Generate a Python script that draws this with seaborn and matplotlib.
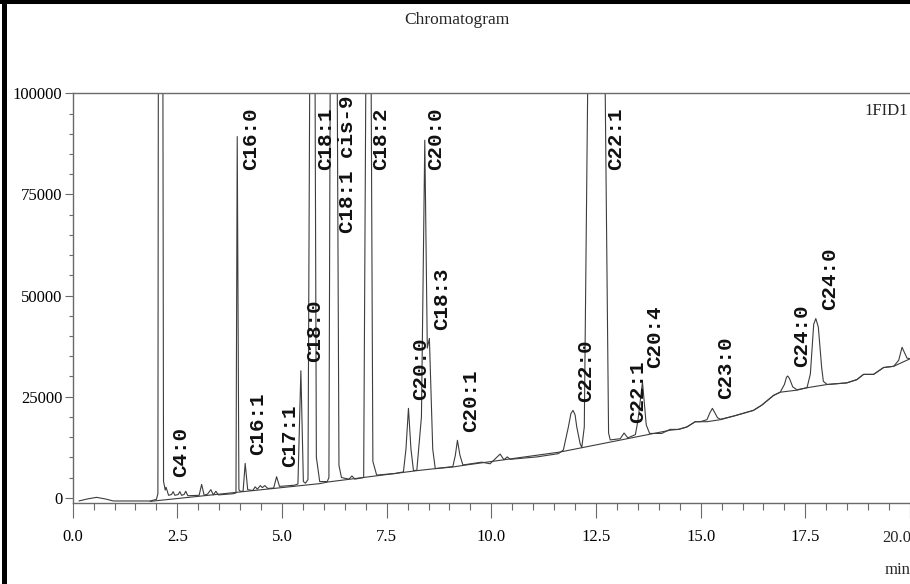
import matplotlib
matplotlib.use("Agg")
import matplotlib.pyplot as plt
import seaborn as sns
import pandas as pd
from matplotlib.lines import Line2D
from matplotlib.ticker import MultipleLocator, FixedLocator, FuncFormatter

# ---------------- data ----------------
# retention time (min) of trace points
time_min = [
    0.15, 0.35, 0.57, 0.78, 0.97, 1.44, 1.85, 2.00, 2.035, 2.045, 2.10, 2.155, 2.17, 2.21,
    2.23, 2.29, 2.36, 2.40, 2.44, 2.52, 2.56, 2.60, 2.66, 2.70, 2.75, 3.02, 3.08, 3.14,
    3.22, 3.30, 3.36, 3.42, 3.48, 3.84, 3.90, 3.93, 3.97, 4.00, 4.07, 4.12, 4.18, 4.30,
    4.36, 4.41, 4.48, 4.53, 4.59, 4.66, 4.80, 4.87, 4.94, 5.30, 5.38, 5.45, 5.51, 5.56,
    5.62, 5.66, 5.725, 5.79, 5.82, 5.90, 6.08, 6.12, 6.15, 6.235, 6.32, 6.36, 6.42, 6.60,
    6.67, 6.74, 6.95, 7.00, 7.065, 7.13, 7.17, 7.26, 7.70, 7.90, 7.96, 8.02, 8.08, 8.14,
    8.22, 8.33, 8.41, 8.47, 8.52, 8.60, 8.66, 9.08, 9.14, 9.19, 9.25, 9.32, 9.77, 9.97,
    10.21, 10.30, 10.38, 10.45, 11.09, 11.60, 11.72, 11.84, 11.90, 11.95, 12.00, 12.04,
    12.12, 12.16, 12.22, 12.30, 12.50, 12.72, 12.80, 12.84, 12.92, 13.08, 13.17, 13.26,
    13.44, 13.50, 13.61, 13.70, 13.78, 14.07, 14.27, 14.47, 14.67, 14.87, 14.99, 15.15,
    15.22, 15.28, 15.34, 15.40, 15.47, 15.79, 16.26, 16.46, 16.74, 16.90, 17.00, 17.05,
    17.08, 17.12, 17.20, 17.30, 17.54, 17.62, 17.70, 17.75, 17.81, 17.89, 17.93, 18.02,
    18.49, 18.73, 18.89, 19.13, 19.37, 19.61, 19.73, 19.81, 19.93, 20.01, 20.20,
]
# detector signal of trace points (counts); off-scale peak tops are estimates
signal = [
    -800, -300, 100, -300, -800, -800, -800, -400, 1000, 100000, 350000, 100000, 4000, 1900,
    2600, 600, 800, 1500, 600, 800, 1500, 600, 800, 1600, 500, 600, 3300, 600,
    900, 2000, 700, 1600, 700, 1000, 1200, 89300, 2000, 1600, 1600, 8500, 2000, 1800,
    2700, 2100, 3000, 2500, 3000, 2300, 2400, 5200, 2800, 3100, 3400, 31400, 4000, 3600,
    4500, 100000, 400000, 100000, 10000, 4000, 4000, 5000, 100000, 400000, 100000, 8000, 5000, 4600,
    5400, 4600, 5000, 100000, 400000, 100000, 9000, 5600, 6000, 6400, 12000, 22100, 12000, 6700,
    6800, 20000, 88400, 37000, 39400, 12000, 7200, 7700, 10500, 14200, 10500, 8100, 8800, 8400,
    10800, 9400, 10100, 9500, 10100, 10900, 11800, 17500, 20800, 21600, 20500, 17500,
    13400, 12400, 17500, 100000, 400000, 100000, 16000, 14300, 14400, 14600, 16000, 14800,
    15600, 19000, 28600, 18000, 15900, 15900, 16900, 16900, 17500, 18800, 18800, 19300,
    21000, 22100, 21000, 19800, 19400, 20200, 21600, 22900, 25300, 26100, 28000, 29800,
    30100, 29500, 27400, 26700, 27200, 30600, 42900, 44300, 42200, 32200, 28800, 28000,
    28400, 29200, 30500, 30500, 32200, 32500, 34000, 37200, 34500, 34400, 35000,
]
# integration baseline drawn under the peaks
baseline_time = [1.85, 5.91, 6.10, 7.70, 8.22, 8.66, 9.08, 9.33, 11.64, 14.27,
                 14.47, 14.67, 14.87, 14.99, 15.15, 15.47, 15.79, 16.26, 16.46, 16.74,
                 16.90, 17.30, 17.54, 18.02, 18.49, 18.73, 18.89, 19.13, 19.37, 19.61,
                 20.01, 20.20]
baseline_signal = [-900, 3500, 3900, 6000, 6700, 7200, 7600, 8000, 11300, 16700,
                   16900, 17500, 18800, 18800, 18800, 19300, 20200, 21600, 22900, 25300,
                   26100, 26600, 27200, 28000, 28400, 29200, 30500, 30500, 32200, 32500,
                   34400, 35000]

# peak annotations: name, retention time of label centre, signal level of label start
peak_labels = ["C4:0", "C16:0", "C16:1", "C17:1", "C18:0", "C18:1", "C18:1 cis-9",
               "C18:2", "C20:0", "C20:0", "C18:3", "C20:1", "C22:0", "C22:1",
               "C22:1", "C20:4", "C23:0", "C24:0", "C24:0"]
label_time = [2.58, 4.26, 4.42, 5.17, 5.79, 6.05, 6.57, 7.36, 8.30, 8.68, 8.82, 9.51,
              12.26, 12.98, 13.50, 13.89, 15.59, 17.40, 18.08]
label_level = [5150, 81000, 10500, 7600, 33600, 81000, 65400, 81000, 24100, 81000,
               41400, 16300, 23700, 81000, 18400, 32000, 24500, 32400, 46400]

x_ticks = [0.0, 2.5, 5.0, 7.5, 10.0, 12.5, 15.0, 17.5, 20.0]
y_ticks = [0, 25000, 50000, 75000, 100000]

# ---------------- figure ----------------
sns.set_style("ticks")
plt.rcParams["font.family"] = ["Liberation Serif", "DejaVu Serif"]

W, H = 910, 584
fig = plt.figure(figsize=(W / 100, H / 100), dpi=100)
ax_left, ax_right, ax_top, ax_bottom = 72.7, 910.0, 93.3, 503.0
ax = fig.add_axes([ax_left / W, 1 - ax_bottom / H, (ax_right - ax_left) / W,
                   (ax_bottom - ax_top) / H])

trace_color = "#3d3d3d"
df = pd.DataFrame({"time": time_min, "signal": signal})
sns.lineplot(data=df, x="time", y="signal", ax=ax, color=trace_color, linewidth=0.8,
             estimator=None, sort=False, legend=False)
sns.lineplot(x=baseline_time, y=baseline_signal, ax=ax, color=trace_color, linewidth=0.8,
             estimator=None, sort=False, legend=False)

ax.set_xlim(0, 20.0)
ax.set_ylim(-1300, 100000)
ax.set_xlabel("")
ax.set_ylabel("")

ax.xaxis.set_major_locator(FixedLocator(x_ticks))
ax.xaxis.set_minor_locator(MultipleLocator(0.5))
ax.yaxis.set_major_locator(FixedLocator(y_ticks))
ax.yaxis.set_minor_locator(MultipleLocator(5000))
ax.xaxis.set_major_formatter(FuncFormatter(lambda v, p: "" if v >= 19.99 else f"{v:.1f}"))
ax.yaxis.set_major_formatter(FuncFormatter(lambda v, p: f"{v:.0f}"))

spine_col = "#6a6a6a"
for s in ["left", "bottom", "top"]:
    ax.spines[s].set_visible(True)
    ax.spines[s].set_color(spine_col)
    ax.spines[s].set_linewidth(1.0)
ax.spines["right"].set_visible(False)

ax.tick_params(axis="x", which="major", length=10.8, width=0.8, color=spine_col,
               pad=8, labelsize=12, labelcolor="black", direction="out")
ax.tick_params(axis="x", which="minor", length=5, width=0.8, color=spine_col, direction="out")
ax.tick_params(axis="y", which="major", length=5.8, width=0.8, color=spine_col,
               pad=1.5, labelsize=12, labelcolor="black", direction="out")
ax.tick_params(axis="y", which="minor", length=2.9, width=0.8, color=spine_col, direction="out")

# last x tick label sits a little inside the cropped right edge
fig.text(897 / W, 1 - 537.5 / H, "20.0", ha="center", va="center", fontsize=12)

# peak labels
for name, t, lvl in zip(peak_labels, label_time, label_level):
    ax.text(t, lvl, name, rotation=90, ha="center", va="bottom", fontsize=15,
            fontweight="bold", family=["Liberation Mono", "DejaVu Sans Mono"],
            color="#111111")

# titles / annotations
fig.text(457 / W, 1 - 20 / H, "Chromatogram", ha="center", va="center", fontsize=12.5)
fig.text(908 / W, 1 - 111 / H, "1FID1", ha="right", va="center", fontsize=12)
fig.text(898 / W, 1 - 570 / H, "min", ha="center", va="center", fontsize=12)

# black frame on left and top edges
fig.add_artist(Line2D([4.2 / W, 4.2 / W], [0, 1], transform=fig.transFigure,
                      color="black", linewidth=3.6))
fig.add_artist(Line2D([0, 1], [1 - 2 / H, 1 - 2 / H], transform=fig.transFigure,
                      color="black", linewidth=2.9))

fig.savefig("out.png", dpi=100)
